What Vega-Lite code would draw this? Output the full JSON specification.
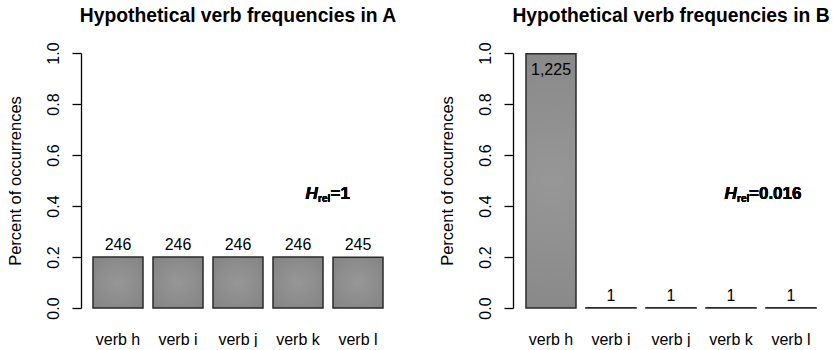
{
  "$schema": "https://vega.github.io/schema/vega-lite/v6.json",
  "background": "white",
  "padding": {"top": 6, "left": 7, "right": 0, "bottom": 0},
  "spacing": 42,
  "config": {
    "font": "Liberation Sans",
    "view": {"stroke": null},
    "axis": {"grid": false, "labelColor": "black", "titleColor": "black", "domainColor": "black", "tickColor": "black"}
  },
  "datasets": {
    "A": [
      {"verb": "verb h", "count": 246, "prop": 0.2002},
      {"verb": "verb i", "count": 246, "prop": 0.2002},
      {"verb": "verb j", "count": 246, "prop": 0.2002},
      {"verb": "verb k", "count": 246, "prop": 0.2002},
      {"verb": "verb l", "count": 245, "prop": 0.1993}
    ],
    "B": [
      {"verb": "verb h", "count": 1225, "prop": 0.9967},
      {"verb": "verb i", "count": 1, "prop": 0.0008},
      {"verb": "verb j", "count": 1, "prop": 0.0008},
      {"verb": "verb k", "count": 1, "prop": 0.0008},
      {"verb": "verb l", "count": 1, "prop": 0.0008}
    ]
  },
  "hconcat": [
    {
      "width": 310,
      "height": 255,
      "title": {"text": "Hypothetical verb frequencies in A", "fontSize": 19.3, "fontWeight": "bold", "anchor": "middle", "frame": "group", "offset": 16, "color": "black"},
      "data": {"name": "A"},
      "encoding": {
        "x": {"field": "verb", "type": "nominal", "sort": null,
          "scale": {"paddingInner": 0.1667, "paddingOuter": 0.1667},
          "axis": {"title": null, "domain": false, "ticks": false, "labelAngle": 0, "labelFontSize": 16, "labelPadding": 23}},
        "y": {"field": "prop", "type": "quantitative",
          "scale": {"domain": [0, 1], "nice": false, "zero": true},
          "axis": {"title": "Percent of occurrences", "titleFontSize": 16.5, "titleFontWeight": "normal", "titlePadding": 22,
            "values": [0, 0.2, 0.4, 0.6, 0.8, 1.0], "format": ".1f", "labelAngle": -90, "labelAlign": "center", "labelBaseline": "bottom",
            "labelFontSize": 16, "labelPadding": 11, "tickSize": 9, "tickWidth": 1.3, "domainWidth": 1.3, "offset": 2, "labelFlush": false, "labelOverlap": false}}
      },
      "layer": [
        {"mark": {"type": "bar", "stroke": "#2a2a2a", "strokeWidth": 1.5,
          "fill": {"gradient": "radial", "x1": 0.5, "y1": 0.5, "r1": 0, "x2": 0.5, "y2": 0.5, "r2": 0.75,
            "stops": [{"offset": 0, "color": "#979797"}, {"offset": 1, "color": "#828282"}]}}},
        {"mark": {"type": "text", "fontSize": 16, "baseline": "alphabetic", "dy": -7, "color": "black"},
          "encoding": {"text": {"field": "count", "type": "quantitative", "format": ","}}},
        {"mark": {"type": "text", "fontSize": 17, "fontWeight": "bold", "fontStyle": "italic", "align": "left", "baseline": "alphabetic", "dx": 7.5, "dy": 6, "color": "black"},
          "encoding": {"x": {"datum": "verb k"}, "y": {"datum": 0.45}, "text": {"value": "H"}}},
        {"mark": {"type": "text", "fontSize": 10, "fontWeight": "bold", "align": "left", "baseline": "alphabetic", "dx": 20, "dy": 9, "color": "black"},
          "encoding": {"x": {"datum": "verb k"}, "y": {"datum": 0.45}, "text": {"value": "rel"}}},
        {"mark": {"type": "text", "fontSize": 17, "fontWeight": "bold", "align": "left", "baseline": "alphabetic", "dx": 32.5, "dy": 6, "color": "black"},
          "encoding": {"x": {"datum": "verb k"}, "y": {"datum": 0.45}, "text": {"value": "=1"}}}
      ]
    },
    {
      "width": 310,
      "height": 255,
      "title": {"text": "Hypothetical verb frequencies in B", "fontSize": 19.3, "fontWeight": "bold", "anchor": "middle", "frame": "group", "offset": 16, "color": "black"},
      "data": {"name": "B"},
      "encoding": {
        "x": {"field": "verb", "type": "nominal", "sort": null,
          "scale": {"paddingInner": 0.1667, "paddingOuter": 0.1667},
          "axis": {"title": null, "domain": false, "ticks": false, "labelAngle": 0, "labelFontSize": 16, "labelPadding": 23}},
        "y": {"field": "prop", "type": "quantitative",
          "scale": {"domain": [0, 1], "nice": false, "zero": true},
          "axis": {"title": "Percent of occurrences", "titleFontSize": 16.5, "titleFontWeight": "normal", "titlePadding": 22,
            "values": [0, 0.2, 0.4, 0.6, 0.8, 1.0], "format": ".1f", "labelAngle": -90, "labelAlign": "center", "labelBaseline": "bottom",
            "labelFontSize": 16, "labelPadding": 11, "tickSize": 9, "tickWidth": 1.3, "domainWidth": 1.3, "offset": 3, "labelFlush": false, "labelOverlap": false}}
      },
      "layer": [
        {"mark": {"type": "bar", "stroke": "#2a2a2a", "strokeWidth": 1.5,
          "fill": {"gradient": "radial", "x1": 0.5, "y1": 0.5, "r1": 0, "x2": 0.5, "y2": 0.5, "r2": 0.75,
            "stops": [{"offset": 0, "color": "#979797"}, {"offset": 1, "color": "#828282"}]}}},
        {"transform": [{"filter": "datum.prop < 0.9"}],
          "mark": {"type": "text", "fontSize": 16, "baseline": "alphabetic", "dy": -7, "color": "black"},
          "encoding": {"text": {"field": "count", "type": "quantitative", "format": ","}}},
        {"transform": [{"filter": "datum.prop >= 0.9"}],
          "mark": {"type": "text", "fontSize": 16, "baseline": "top", "dy": 8, "color": "black"},
          "encoding": {"text": {"field": "count", "type": "quantitative", "format": ","}}},
        {"mark": {"type": "text", "fontSize": 17, "fontWeight": "bold", "fontStyle": "italic", "align": "left", "baseline": "alphabetic", "dx": -6.5, "dy": 6, "color": "black"},
          "encoding": {"x": {"datum": "verb k"}, "y": {"datum": 0.45}, "text": {"value": "H"}}},
        {"mark": {"type": "text", "fontSize": 10, "fontWeight": "bold", "align": "left", "baseline": "alphabetic", "dx": 6, "dy": 9, "color": "black"},
          "encoding": {"x": {"datum": "verb k"}, "y": {"datum": 0.45}, "text": {"value": "rel"}}},
        {"mark": {"type": "text", "fontSize": 17, "fontWeight": "bold", "align": "left", "baseline": "alphabetic", "dx": 18, "dy": 6, "color": "black"},
          "encoding": {"x": {"datum": "verb k"}, "y": {"datum": 0.45}, "text": {"value": "=0.016"}}}
      ]
    }
  ]
}
